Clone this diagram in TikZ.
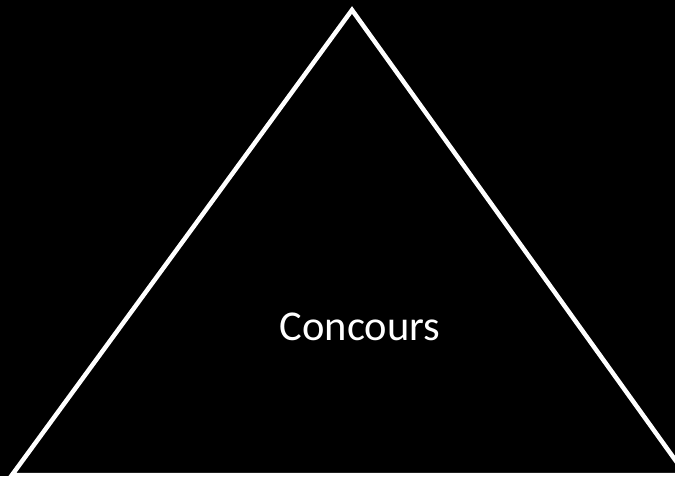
\documentclass[tikz,border=0pt]{standalone}
\usepackage{fontspec}
\setmainfont{Carlito}
\usetikzlibrary{positioning}

\begin{document}
\begin{tikzpicture}[
    x=1pt, y=-1pt,
    edge/.style={draw=white, line width=4.5pt, line join=miter},
    label/.style={text=white, font=\fontsize{42.5}{50}\selectfont, inner sep=0pt}
]
\useasboundingbox (0,0) rectangle (675,481);
\fill[white] (0,0) rectangle (675,481);
\fill[black] (0,0) rectangle (675,476);

% sommets du triangle
\coordinate (sommet) at (352,10);
\coordinate (gauche) at (12,475);
\coordinate (droite) at (686,475);

\begin{scope}
\clip (0,0) rectangle (675,476);
\draw[edge] (gauche) -- (sommet) -- (droite) -- cycle;
\end{scope}

\node[label] (concours) at (360,327) {Concours};

\end{tikzpicture}
\end{document}
